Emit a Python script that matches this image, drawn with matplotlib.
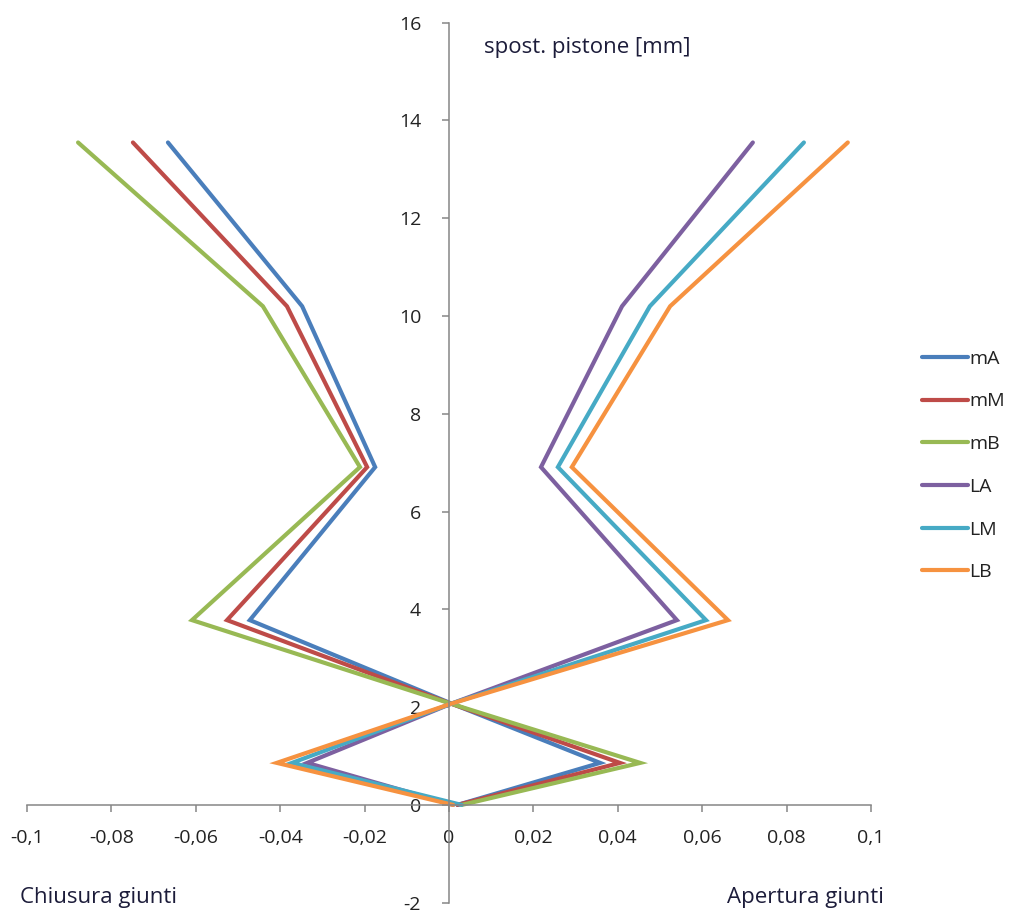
import matplotlib
matplotlib.use("Agg")
import matplotlib.pyplot as plt
from matplotlib.ticker import FuncFormatter, MultipleLocator

# Piston displacement levels [mm]
spost = [0.0, 0.86, 2.07, 3.78, 6.91, 10.2, 13.55]

# Joint displacements (negative = closure, positive = opening)
series_names = ["mA", "mM", "mB", "LA", "LM", "LB"]
mA = [0.002, 0.0358, 0.0007, -0.0472, -0.0175, -0.0348, -0.0666]
mM = [0.002, 0.0405, 0.0005, -0.0526, -0.0194, -0.0384, -0.0749]
mB = [0.003, 0.0453, 0.0005, -0.0609, -0.0211, -0.0441, -0.0879]
LA = [0.001, -0.0336, 0.0005, 0.0540, 0.0218, 0.0410, 0.0720]
LM = [0.003, -0.0372, 0.0005, 0.0609, 0.0258, 0.0476, 0.0841]
LB = [0.001, -0.0408, 0.0005, 0.0661, 0.0291, 0.0524, 0.0945]
series_values = [mA, mM, mB, LA, LM, LB]
colors = ["#4A7EBB", "#BE4B48", "#98B954", "#7D60A0", "#46AAC5", "#F69240"]

plt.rcParams["font.family"] = ["Open Sans", "DejaVu Sans"]

W, H = 1012, 916
fig = plt.figure(figsize=(W / 100, H / 100), dpi=100)
ax = fig.add_axes([27 / W, 1 - 902.7 / H, (871 - 27) / W, (902.7 - 22.7) / H])

for name, vals, c in zip(series_names, series_values, colors):
    ax.plot(vals, spost, color=c, lw=3.0, label=name,
            solid_joinstyle="miter", solid_capstyle="round")

ax.set_xlim(-0.1, 0.1)
ax.set_ylim(-2, 16)
ax.xaxis.set_major_locator(MultipleLocator(0.02))
ax.yaxis.set_major_locator(MultipleLocator(2))


def comma_fmt(v, pos):
    if abs(v) < 1e-9:
        return "0"
    s = f"{v:.2f}".rstrip("0").rstrip(".")
    return s.replace(".", ",")


ax.xaxis.set_major_formatter(FuncFormatter(comma_fmt))
ax.yaxis.set_major_formatter(FuncFormatter(lambda v, p: f"{int(round(v))}"))

spine_col = "#868686"
ax.spines["left"].set_position(("data", 0))
ax.spines["bottom"].set_position(("data", 0))
ax.spines["right"].set_visible(False)
ax.spines["top"].set_visible(False)
for s in ("left", "bottom"):
    ax.spines[s].set_color(spine_col)
    ax.spines[s].set_linewidth(1.1)

ax.tick_params(axis="both", direction="out", length=5, width=1.1,
               color=spine_col, labelsize=14, labelcolor="#222222")
ax.tick_params(axis="x", pad=12)
ax.tick_params(axis="y", pad=15)
ax.set_facecolor("white")

ax.text(0.0083, 15.5, "spost. pistone [mm]", fontsize=16, color="#1c1c3a",
        ha="left", va="center")
fig.text(20 / W, 1 - 897 / H, "Chiusura giunti", fontsize=16,
         color="#1c1c3a", ha="left", va="center")
fig.text(727 / W, 1 - 897 / H, "Apertura giunti", fontsize=16,
         color="#1c1c3a", ha="left", va="center")

leg = fig.legend(loc="upper left", bbox_to_anchor=(914 / W, 1 - 342 / H),
                 frameon=False, fontsize=14, handlelength=2.4,
                 handletextpad=0.05, labelspacing=1.27, borderaxespad=0)
for t in leg.get_texts():
    t.set_color("#222222")

fig.savefig("out.png", dpi=100, facecolor="white")
